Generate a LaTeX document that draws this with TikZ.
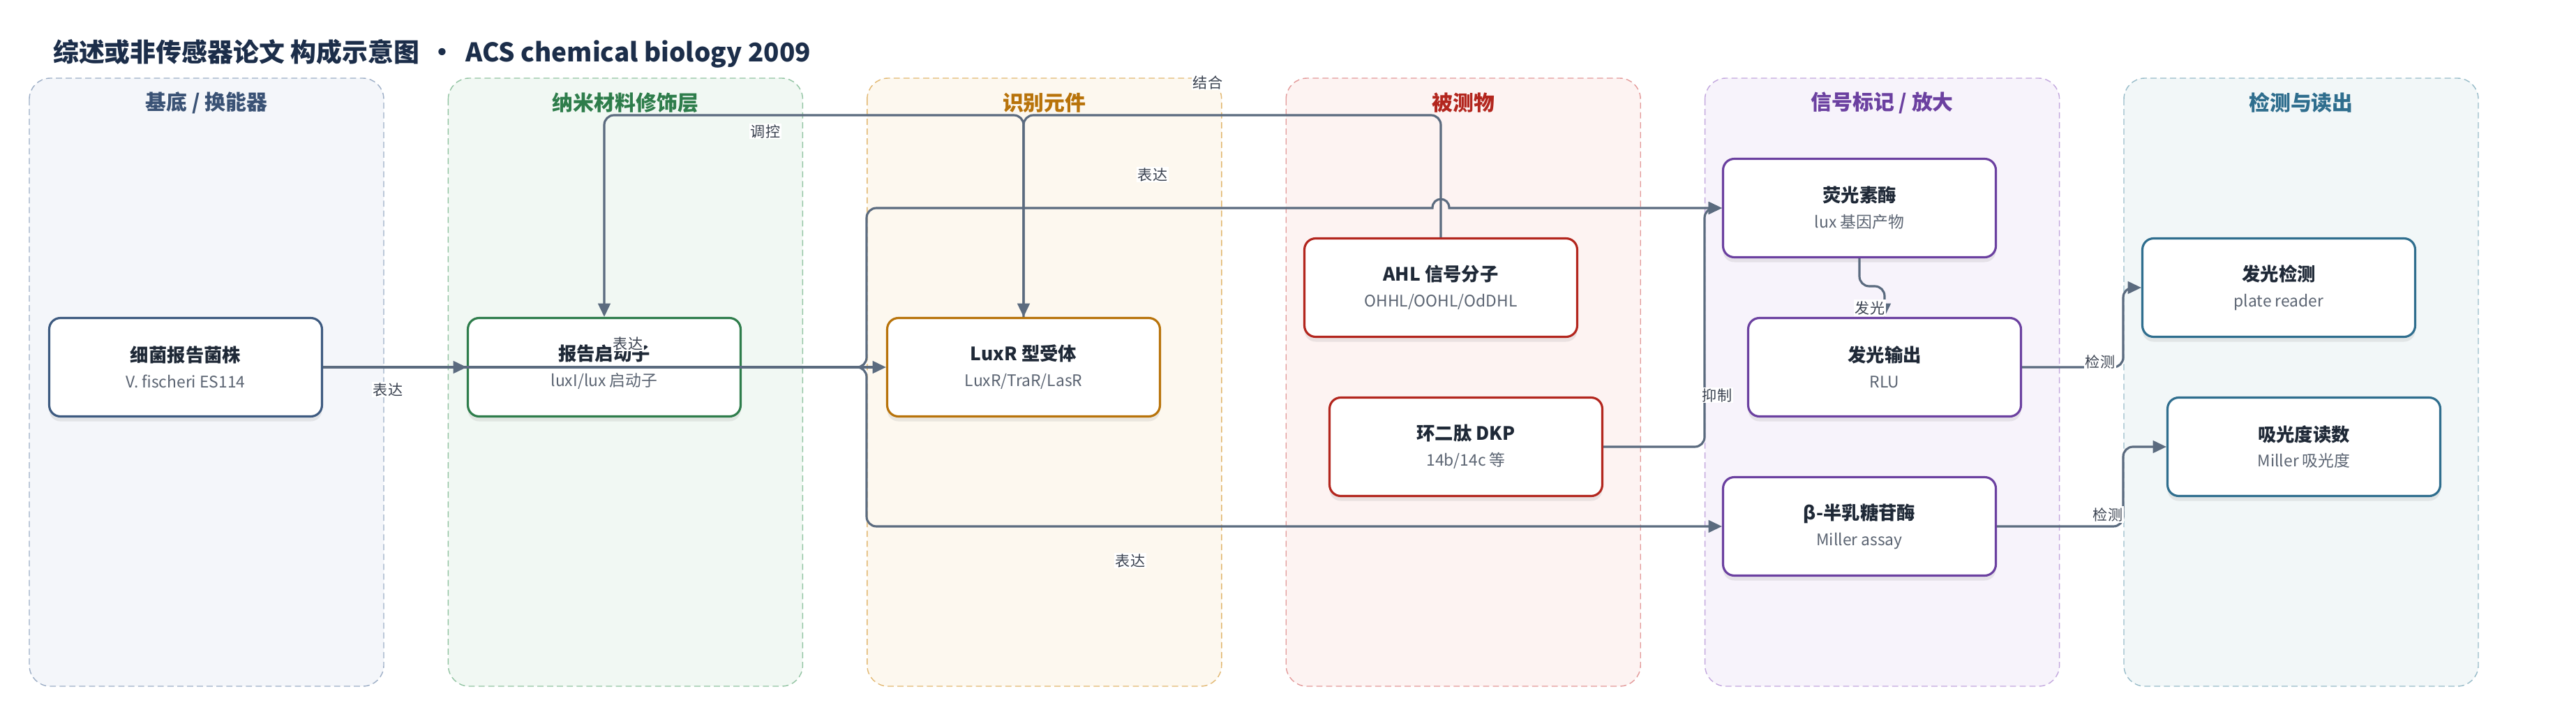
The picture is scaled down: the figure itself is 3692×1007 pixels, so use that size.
\documentclass[tikz,border=0pt]{standalone}
\usepackage{fontspec}
\setmainfont{Noto Sans CJK SC}
\usetikzlibrary{arrows.meta,positioning,shadows}

\definecolor{edgegray}{HTML}{5B6B7F}
\definecolor{labelgray}{HTML}{3A4250}
\definecolor{subgray}{HTML}{5B6472}
\definecolor{titlenavy}{HTML}{1C2E4A}
\definecolor{nodetext}{HTML}{1F2937}
% lane colours: fill / border / title
\definecolor{fillA}{HTML}{F4F6FA}\definecolor{drawA}{HTML}{9DAEC6}\definecolor{textA}{HTML}{3A5275}
\definecolor{fillB}{HTML}{F1F8F3}\definecolor{drawB}{HTML}{93C4A3}\definecolor{textB}{HTML}{2E7D4B}
\definecolor{fillC}{HTML}{FDF8EF}\definecolor{drawC}{HTML}{E2B872}\definecolor{textC}{HTML}{B8730A}
\definecolor{fillD}{HTML}{FDF3F2}\definecolor{drawD}{HTML}{E39A9A}\definecolor{textD}{HTML}{B3261E}
\definecolor{fillE}{HTML}{F7F3FB}\definecolor{drawE}{HTML}{C3A8DE}\definecolor{textE}{HTML}{6B40A0}
\definecolor{fillF}{HTML}{F2F7F8}\definecolor{drawF}{HTML}{98BCC9}\definecolor{textF}{HTML}{2F6E8E}
\definecolor{lineA}{HTML}{3D5A80}

\newcommand{\boxlabel}[2]{{\bfseries #1}\\[3pt]{\color{subgray}\fontsize{13}{16}\selectfont #2}}

\begin{document}
\begin{tikzpicture}[
  x=0.02cm, y=-0.02cm,
  >={Triangle[length=11pt,width=10pt]},
  lanebox/.style={dash pattern=on 5pt off 3pt, line width=0.8pt, rounded corners=0.6cm},
  lanetitle/.style={font=\fontsize{17}{20}\selectfont\bfseries},
  box/.style={draw, line width=1.8pt, fill=white, rounded corners=0.32cm,
    minimum width=7.82cm, minimum height=2.82cm, align=center, text=nodetext,
    font=\fontsize{15}{18}\selectfont,
    drop shadow={opacity=0.15, shadow xshift=0pt, shadow yshift=-4pt}},
  link/.style={draw=edgegray, line width=1.8pt, ->, rounded corners=0.28cm},
  lbl/.style={fill=white, inner sep=1pt, text=labelgray, font=\fontsize{12}{14}\selectfont}
]
\useasboundingbox (0,0) rectangle (3692,1007);

% --- Title ---
\node[anchor=west, text=titlenavy, font=\fontsize{21}{24}\selectfont\bfseries] (title) at (70,77)
  {综述或非传感器论文 构成示意图 \,•\, ACS chemical biology 2009};

% --- Lanes ---
\foreach \i/\ttl/\c in {0/{基底 / 换能器}/A, 1/{纳米材料修饰层}/B, 2/{识别元件}/C,
                        3/{被测物}/D, 4/{信号标记 / 放大}/E, 5/{检测与读出}/F} {
  \draw[lanebox, fill=fill\c, draw=draw\c] ({42+600.4*\i},112) rectangle ++(508,871);
  \node[lanetitle, text=text\c] (lane\c) at ({296+600.4*\i},147) {\ttl};
}

% --- Nodes ---
\node[box, draw=lineA]  (strain)   at (266,526)  {\boxlabel{细菌报告菌株}{V. fischeri ES114}};
\node[box, draw=textB]  (promoter) at (866,526)  {\boxlabel{报告启动子}{luxI/lux 启动子}};
\node[box, draw=textC]  (receptor) at (1467,526) {\boxlabel{LuxR 型受体}{LuxR/TraR/LasR}};
\node[box, draw=textD]  (ahl)      at (2065,412) {\boxlabel{AHL 信号分子}{OHHL/OOHL/OdDHL}};
\node[box, draw=textD]  (dkp)      at (2101,640) {\boxlabel{环二肽 DKP}{14b/14c 等}};
\node[box, draw=textE]  (luc)      at (2665,298) {\boxlabel{荧光素酶}{lux 基因产物}};
\node[box, draw=textE]  (lumi)     at (2701,526) {\boxlabel{发光输出}{RLU}};
\node[box, draw=textE]  (bgal)     at (2665,754) {\boxlabel{β-半乳糖苷酶}{Miller assay}};
\node[box, draw=textF]  (plate)    at (3266,412) {\boxlabel{发光检测}{plate reader}};
\node[box, draw=textF]  (absorb)   at (3302,640) {\boxlabel{吸光度读数}{Miller 吸光度}};

% --- Edges ---
% strain
\draw[link] (strain.east) -- (promoter.west);
\draw[link] (strain.east) -- (receptor.west);

% regulation and binding along the top
\draw[link] (receptor.north) -- (1467,165) -- (866,165) -- (promoter.north);
\draw[link] (ahl.north) -- (2065,165) -- (1467,165) -- (receptor.north);

% expression of reporters (small hop over the AHL line)
\draw[link] (promoter.east) -- (1242,526) -- (1242,298) [sharp corners] -- (2053,298)
  .. controls (2053,281) and (2077,281) .. (2077,298) -- (luc.west);
\draw[link] (promoter.east) -- (1242,526) -- (1242,754) -- (bgal.west);

% inhibition
\draw[link] (dkp.east) -- (2443,640) -- (2443,298) -- (luc.west);

% light
\draw[link] (luc.south) -- (2665,410) -- (2701,410) -- (lumi.north);

% readout
\draw[link] (lumi.east) -- (3043,526) -- (3043,412) -- (plate.west);
\draw[link] (bgal.east) -- (3043,754) -- (3043,640) -- (absorb.west);

% --- Edge labels ---
\node[lbl] (lbA) at (556,558)  {表达};
\node[lbl] (lbB) at (900,492)  {表达};
\node[lbl] (lbC) at (1652,250) {表达};
\node[lbl] (lbD) at (1620,803) {表达};
\node[lbl] (lbE) at (1097,188) {调控};
\node[lbl] (lbF) at (1731,118) {结合};
\node[lbl] (lbG) at (2461,566) {抑制};
\node[lbl] (lbH) at (2680,441) {发光};
\node[lbl] (lbI) at (3010,518) {检测};
\node[lbl] (lbJ) at (3021,737) {检测};

\end{tikzpicture}
\end{document}
